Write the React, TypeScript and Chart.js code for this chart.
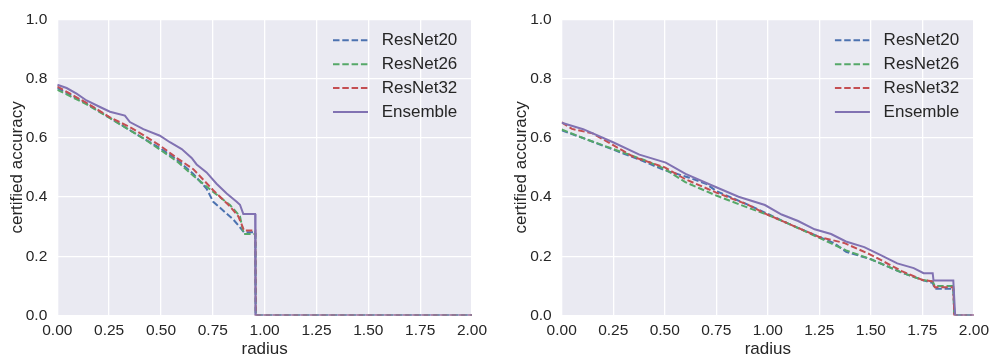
import React, { useEffect, useRef } from "react";
import { Chart, registerables } from "chart.js";
Chart.register(...registerables);

const SERIES_LABELS = ["ResNet20", "ResNet26", "ResNet32", "Ensemble"];
const SERIES_COLORS = ["#4C72B0", "#55A868", "#C44E52", "#8172B2"];
const X_TICKS = [0, 0.25, 0.5, 0.75, 1.0, 1.25, 1.5, 1.75, 2.0];
const Y_TICKS = [0, 0.2, 0.4, 0.6, 0.8, 1.0];
const X_TITLE = "radius";
const Y_TITLE = "certified accuracy";

// ---- left panel ----
const leftR20X = [0, 0.141, 0.254, 0.415, 0.495, 0.576, 0.656, 0.72, 0.752, 0.849, 0.889, 0.9, 0.955, 0.957, 2.0];
const leftR20Y = [0.768, 0.716, 0.667, 0.598, 0.565, 0.527, 0.478, 0.428, 0.384, 0.324, 0.291, 0.281, 0.281, 0, 0];
const leftR26X = [0, 0.141, 0.254, 0.415, 0.495, 0.576, 0.656, 0.752, 0.833, 0.881, 0.897, 0.9, 0.955, 0.957, 2.0];
const leftR26Y = [0.762, 0.713, 0.666, 0.598, 0.56, 0.521, 0.472, 0.417, 0.373, 0.335, 0.28, 0.275, 0.275, 0, 0];
const leftR32X = [0, 0.141, 0.254, 0.35, 0.415, 0.495, 0.576, 0.656, 0.752, 0.833, 0.873, 0.889, 0.9, 0.955, 0.957, 2.0];
const leftR32Y = [0.773, 0.718, 0.669, 0.636, 0.609, 0.574, 0.532, 0.494, 0.423, 0.368, 0.335, 0.308, 0.287, 0.287, 0, 0];
const leftEnsX = [0, 0.045, 0.093, 0.141, 0.206, 0.254, 0.326, 0.35, 0.415, 0.495, 0.543, 0.6, 0.648, 0.672, 0.72, 0.768, 0.817, 0.865, 0.881, 0.897, 0.954, 0.956, 2.0];
const leftEnsY = [0.779, 0.768, 0.749, 0.726, 0.704, 0.688, 0.675, 0.653, 0.629, 0.607, 0.585, 0.562, 0.532, 0.51, 0.483, 0.445, 0.412, 0.384, 0.374, 0.343, 0.343, 0, 0];

// ---- right panel ----
const rightR20X = [0, 0.1, 0.25, 0.4, 0.5, 0.55, 0.62, 0.7, 0.75, 0.9, 1.0, 1.1, 1.25, 1.32, 1.38, 1.5, 1.65, 1.75, 1.8, 1.81, 1.9, 1.905, 2.0];
const rightR20Y = [0.625, 0.6, 0.56, 0.52, 0.49, 0.48, 0.465, 0.445, 0.42, 0.375, 0.343, 0.31, 0.265, 0.245, 0.215, 0.19, 0.145, 0.12, 0.11, 0.09, 0.09, 0, 0];
const rightR26X = [0, 0.1, 0.25, 0.4, 0.5, 0.6, 0.75, 0.9, 1.0, 1.1, 1.25, 1.38, 1.5, 1.65, 1.75, 1.8, 1.81, 1.9, 1.905, 2.0];
const rightR26Y = [0.628, 0.6, 0.562, 0.525, 0.495, 0.45, 0.405, 0.365, 0.34, 0.31, 0.262, 0.22, 0.19, 0.145, 0.12, 0.115, 0.1, 0.1, 0, 0];
const rightR32X = [0, 0.05, 0.15, 0.25, 0.35, 0.5, 0.6, 0.75, 0.9, 1.0, 1.1, 1.25, 1.37, 1.5, 1.65, 1.75, 1.8, 1.81, 1.9, 1.905, 2.0];
const rightR32Y = [0.652, 0.63, 0.615, 0.575, 0.535, 0.5, 0.46, 0.415, 0.375, 0.34, 0.31, 0.265, 0.245, 0.205, 0.15, 0.12, 0.115, 0.095, 0.095, 0, 0];
const rightEnsX = [0, 0.104, 0.249, 0.377, 0.505, 0.601, 0.73, 0.858, 0.986, 1.067, 1.147, 1.227, 1.307, 1.379, 1.468, 1.548, 1.628, 1.708, 1.756, 1.8, 1.804, 1.9, 1.909, 2.0];
const rightEnsY = [0.651, 0.629, 0.585, 0.543, 0.516, 0.478, 0.439, 0.401, 0.373, 0.341, 0.319, 0.291, 0.275, 0.25, 0.231, 0.204, 0.176, 0.16, 0.143, 0.143, 0.118, 0.118, 0, 0];

const FONT = "'Liberation Sans', Arial, Helvetica, sans-serif";
const TEXT = "#262626";

type Panel = {
  series: [number[], number[]][];
  left: number;
  width: number;
  yAxisWidth: number;
  padRight: number;
  yTitlePad: number;
};

const PANELS: Panel[] = [
  {
    series: [[leftR20X, leftR20Y], [leftR26X, leftR26Y], [leftR32X, leftR32Y], [leftEnsX, leftEnsY]],
    left: 0, width: 500, yAxisWidth: 57.3, padRight: 28, yTitlePad: 7.3,
  },
  {
    series: [[rightR20X, rightR20Y], [rightR26X, rightR26Y], [rightR32X, rightR32Y], [rightEnsX, rightEnsY]],
    left: 500, width: 495, yAxisWidth: 61.7, padRight: 17.7, yTitlePad: 10.8,
  },
];

const bgPlugin = {
  id: "bgArea",
  beforeDraw(chart: any) {
    const { ctx, chartArea } = chart;
    ctx.save();
    ctx.fillStyle = "#EAEAF2";
    ctx.fillRect(chartArea.left, chartArea.top, chartArea.right - chartArea.left, chartArea.bottom - chartArea.top);
    ctx.restore();
  },
};

const legendPlugin = {
  id: "innerLegend",
  afterDraw(chart: any) {
    const { ctx, chartArea } = chart;
    ctx.save();
    chart.data.datasets.forEach((ds: any, i: number) => {
      const y = chartArea.top + 21 + i * 23.9;
      const x0 = chartArea.right - 139;
      ctx.strokeStyle = ds.borderColor;
      ctx.lineWidth = ds.borderWidth;
      ctx.setLineDash(ds.borderDash || []);
      ctx.beginPath();
      ctx.moveTo(x0, y);
      ctx.lineTo(x0 + 35, y);
      ctx.stroke();
      ctx.setLineDash([]);
      ctx.fillStyle = TEXT;
      ctx.font = `17px ${FONT}`;
      ctx.textBaseline = "middle";
      ctx.textAlign = "left";
      ctx.fillText(ds.label, chartArea.right - 90.3, y + 0.5);
    });
    ctx.restore();
  },
};

function PanelChart({ panel }: { panel: Panel }) {
  const ref = useRef<HTMLCanvasElement | null>(null);
  useEffect(() => {
    if (!ref.current) return;
    const orders = [3, 2, 1, 0];
    const chart = new Chart(ref.current, {
      type: "line",
      data: {
        datasets: panel.series.map(([xs, ys], i) => ({
          label: SERIES_LABELS[i],
          data: xs.map((x, k) => ({ x, y: ys[k] })),
          borderColor: SERIES_COLORS[i],
          backgroundColor: SERIES_COLORS[i],
          borderWidth: 2,
          borderDash: i < 3 ? [6.5, 2.8] : [],
          pointRadius: 0,
          fill: false,
          tension: 0,
          order: orders[i],
        })),
      },
      options: {
        animation: false,
        responsive: false,
        devicePixelRatio: 1,
        layout: { padding: { top: 11.5, right: panel.padRight, bottom: 0, left: 0 } },
        plugins: { legend: { display: false }, tooltip: { enabled: false } },
        scales: {
          x: {
            type: "linear",
            min: 0,
            max: 2,
            afterBuildTicks: (s: any) => { s.ticks = X_TICKS.map((v) => ({ value: v })); },
            afterFit: (s: any) => { s.height = 46.5; },
            border: { display: false },
            grid: { color: "#FFFFFF", lineWidth: 1.3, drawTicks: false },
            ticks: {
              padding: 6,
              color: TEXT,
              font: { family: FONT, size: 15.5 },
              maxRotation: 0,
              callback: (v: any) => Number(v).toFixed(2),
            },
            title: {
              display: true,
              text: X_TITLE,
              color: TEXT,
              font: { family: FONT, size: 17 },
              padding: { top: 0, bottom: 2.3 },
            },
          },
          y: {
            type: "linear",
            min: 0,
            max: 1,
            afterBuildTicks: (s: any) => { s.ticks = Y_TICKS.map((v) => ({ value: v })); },
            afterFit: (s: any) => { s.width = panel.yAxisWidth; },
            border: { display: false },
            grid: { color: "#FFFFFF", lineWidth: 1.3, drawTicks: false },
            ticks: {
              padding: 10,
              color: TEXT,
              font: { family: FONT, size: 15.5 },
              callback: (v: any) => Number(v).toFixed(1),
            },
            title: {
              display: true,
              text: Y_TITLE,
              color: TEXT,
              font: { family: FONT, size: 17 },
              padding: { top: panel.yTitlePad, bottom: 0 },
            },
          },
        },
      },
      plugins: [bgPlugin, legendPlugin],
    } as any);
    return () => chart.destroy();
  }, [panel]);
  return (
    <canvas
      ref={ref}
      width={panel.width}
      height={362}
      style={{ position: "absolute", left: panel.left, top: 0, width: panel.width, height: 362 }}
    />
  );
}

export default function App() {
  return (
    <div style={{ position: "fixed", left: 0, top: 0, width: 995, height: 362, background: "#FFFFFF" }}>
      {PANELS.map((p, i) => (
        <PanelChart key={i} panel={p} />
      ))}
    </div>
  );
}
